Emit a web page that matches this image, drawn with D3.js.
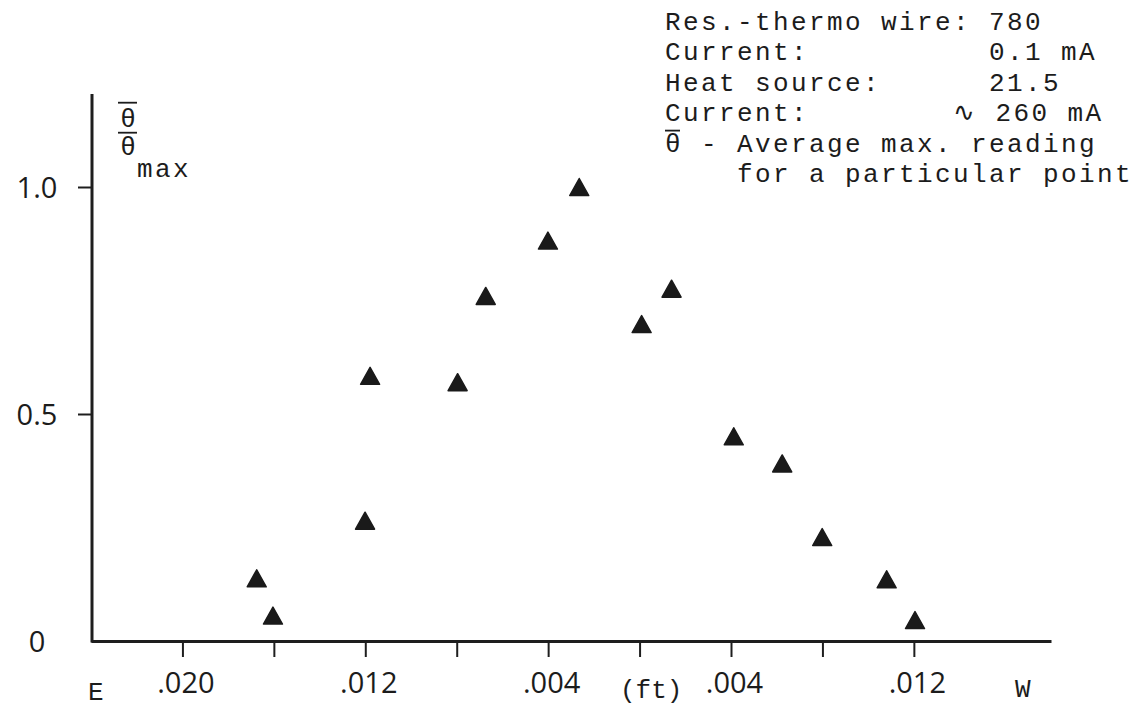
<!DOCTYPE html>
<html>
<head>
<meta charset="utf-8">
<script src="https://cdn.jsdelivr.net/npm/d3@7"></script>
<style>
  html, body { margin: 0; padding: 0; background: #fff; }
  svg { display: block; }
  .mono { font-family: "Liberation Mono", "DejaVu Sans Mono", monospace; fill: #1c1c1c; }
  .num { font-family: "Open Sans", "Liberation Sans", sans-serif; font-weight: 400; fill: #1c1c1c; }
</style>
</head>
<body>
<svg id="chart" width="1145" height="709"></svg>
<script>
// Distance from the heat source (ft): negative = east side, positive = west side
const positions = [-0.01675, -0.01604, -0.01201, -0.01179, -0.00796, -0.00673, -0.00401, -0.00264,
                   0.00009, 0.00140, 0.00412, 0.00624, 0.00799, 0.01081, 0.01205];
// Normalised reading  theta-bar / theta-bar max
const ratios = [0.138, 0.056, 0.265, 0.584, 0.570, 0.760, 0.882, 1.000,
                0.698, 0.776, 0.451, 0.391, 0.229, 0.136, 0.046];

const xTickValues = [-0.020, -0.016, -0.012, -0.008, -0.004, 0, 0.004, 0.008, 0.012];
const xTickLabels = [".020", "", ".012", "", ".004", "", ".004", "", ".012"];
const yTickValues = [0, 0.5, 1.0];
const yTickLabels = ["0", "0.5", "1.0"];

const notes = [
  "Res.-thermo wire: 780",
  "Current:          0.1 mA",
  "Heat source:      21.5",
  "Current:        \u223F 260 mA",
  "\u03B8 - Average max. reading",
  "    for a particular point"
];

const svg = d3.select("#chart");
const ink = "#1e1e1e";
const monoSize = 26, monoSpacing = 2.4;

const x = d3.scaleLinear().domain([-0.024, 0.018]).range([91, 1051]);
const y = d3.scaleLinear().domain([0, 1]).range([641, 187]);

// x axis
const xAxis = d3.axisBottom(x)
  .tickValues(xTickValues)
  .tickSize(16)
  .tickSizeOuter(0)
  .tickFormat((d, i) => xTickLabels[i]);
const gx = svg.append("g").attr("transform", `translate(0,${y(0)})`).call(xAxis);
gx.select(".domain").attr("stroke", ink).attr("stroke-width", 3);
gx.selectAll(".tick line").attr("stroke", ink).attr("stroke-width", 2);
gx.selectAll(".tick text")
  .attr("class", "num")
  .attr("font-size", 29)
  .attr("y", 52).attr("dy", 0).attr("dx", 3);

// y axis
const yAxis = d3.axisLeft(y)
  .tickValues(yTickValues)
  .tickSize(14)
  .tickSizeOuter(0)
  .tickFormat((d, i) => yTickLabels[i]);
const gy = svg.append("g").attr("transform", `translate(${x(-0.024) + 1},0)`).call(yAxis);
gy.select(".domain").remove();
gy.append("line")
  .attr("x1", 0).attr("x2", 0)
  .attr("y1", y(0) + 1.5).attr("y2", y(1.205))
  .attr("stroke", ink).attr("stroke-width", 3);
gy.selectAll(".tick line").attr("stroke", ink).attr("stroke-width", 2)
  .filter(d => d === 0).remove();
gy.selectAll(".tick text")
  .attr("class", "num")
  .attr("font-size", 29)
  .attr("text-anchor", "middle")
  .attr("x", -55)
  .attr("dy", "0.36em");

// end labels of the traverse
svg.append("text").attr("class", "mono").attr("font-size", monoSize)
  .attr("x", 88).attr("y", 700).text("E");
svg.append("text").attr("class", "mono").attr("font-size", monoSize)
  .attr("x", 1015).attr("y", 697).text("W");
svg.append("text").attr("class", "mono").attr("font-size", monoSize)
  .attr("x", 620).attr("y", 698).text("(ft)");

// y-axis quantity: theta-bar over theta-bar max
const yl = svg.append("g");
yl.append("text").attr("class", "mono").attr("font-size", monoSize)
  .attr("text-anchor", "middle").attr("x", 128).attr("y", 127).text("\u03B8");
yl.append("text").attr("class", "mono").attr("font-size", monoSize)
  .attr("text-anchor", "middle").attr("x", 128).attr("y", 155).text("\u03B8");
yl.append("text").attr("class", "mono").attr("font-size", monoSize)
  .attr("letter-spacing", monoSpacing).attr("x", 137).attr("y", 177).text("max");
[102.7, 132.7].forEach(yy => {
  yl.append("line").attr("x1", 118).attr("x2", 137).attr("y1", yy).attr("y2", yy)
    .attr("stroke", "#1c1c1c").attr("stroke-width", 1.8);
});

// experiment notes
const noteX = 665, noteY0 = 30, noteStep = 30.4;
const gn = svg.append("g");
gn.selectAll("text").data(notes).join("text")
  .attr("class", "mono")
  .attr("font-size", monoSize)
  .attr("letter-spacing", monoSpacing)
  .attr("x", noteX)
  .attr("y", (d, i) => noteY0 + i * noteStep)
  .style("white-space", "pre")
  .text(d => d);
gn.append("line")
  .attr("x1", noteX).attr("x2", noteX + 15)
  .attr("y1", noteY0 + 4 * noteStep - 21).attr("y2", noteY0 + 4 * noteStep - 21)
  .attr("stroke", "#1c1c1c").attr("stroke-width", 1.8);

// triangle markers
const tw = 19, th = 17;
const tri = `M0,${-th / 2}L${tw / 2},${th / 2}L${-tw / 2},${th / 2}Z`;
svg.append("g").selectAll("path")
  .data(positions.map((p, i) => [p, ratios[i]]))
  .join("path")
  .attr("d", tri)
  .attr("transform", d => `translate(${x(d[0])},${y(d[1])})`)
  .attr("fill", "#1a1a1a")
  .attr("stroke", "#1a1a1a")
  .attr("stroke-width", 1.5)
  .attr("stroke-linejoin", "round");
</script>
</body>
</html>
